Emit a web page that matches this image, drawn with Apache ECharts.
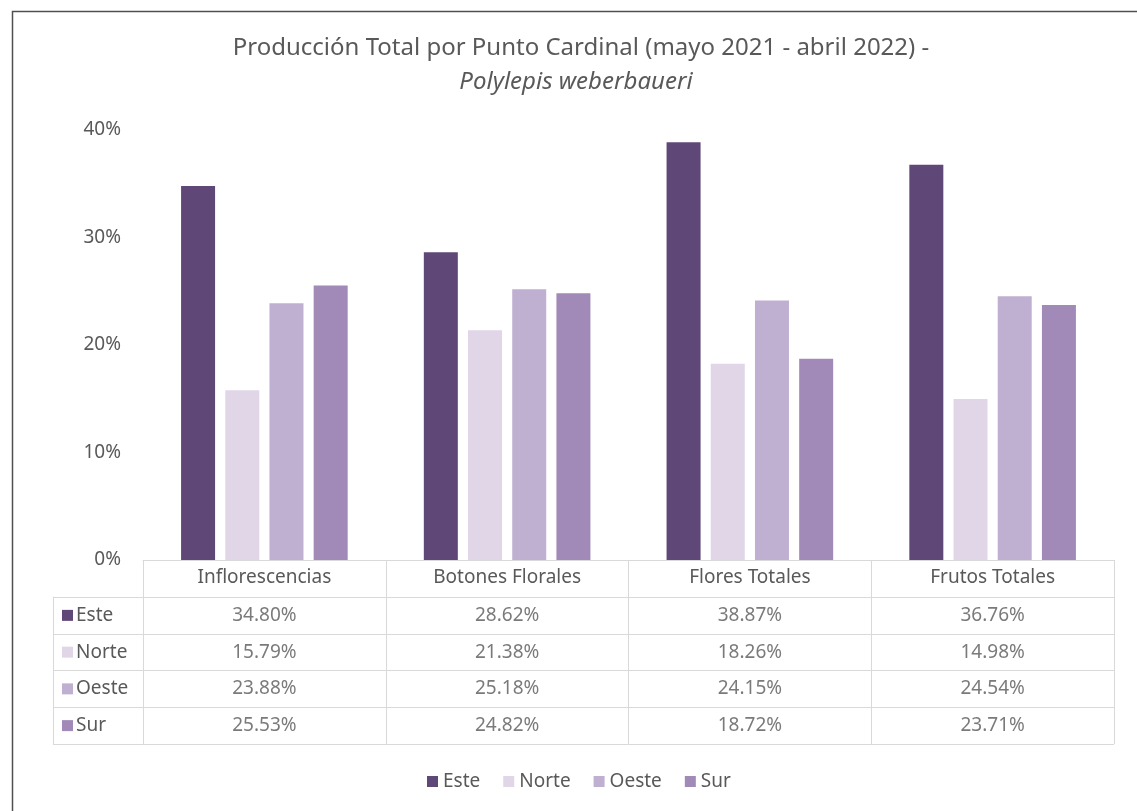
<!DOCTYPE html>
<html>
<head>
<meta charset="utf-8">
<script src="https://cdn.jsdelivr.net/npm/echarts@6/dist/echarts.min.js"></script>
<style>
  html, body { margin: 0; padding: 0; background: #fff; }
  #chart { width: 1137px; height: 811px; }
</style>
</head>
<body>
<div id="chart"></div>
<script>
// datos de la tabla
var categorias = ['Inflorescencias', 'Botones Florales', 'Flores Totales', 'Frutos Totales'];
var puntos = ['Este', 'Norte', 'Oeste', 'Sur'];
var este = [34.80, 28.62, 38.87, 36.76];
var norte = [15.79, 21.38, 18.26, 14.98];
var oeste = [23.88, 25.18, 24.15, 24.54];
var sur = [25.53, 24.82, 18.72, 23.71];
var yTicks = [0, 10, 20, 30, 40];

var valores = [este, norte, oeste, sur];
var colores = ['#5f4878', '#e0d6e8', '#bfb0d1', '#a18ab8'];
var fuente = "'Noto Sans', sans-serif";
var gris = '#595959';
var linea = '#d9d9d9';
var tam = 19;

var myChart = echarts.init(document.getElementById('chart'));

var series = [];
for (let i = 0; i < puntos.length; i++) {
    series.push({
        name: puntos[i],
        type: 'bar',
        xAxisIndex: 0,
        yAxisIndex: 0,
        barWidth: 34,
        barGap: '30%',
        itemStyle: { color: colores[i] },
        data: valores[i]
    });
}

// celdas de la tabla
var celdas = [];
for (let i = 0; i < puntos.length; i++) {
    for (let j = 0; j < categorias.length; j++) {
        celdas.push({ value: [categorias[j], puntos[i]], v: valores[i][j] });
    }
}
series.push({
    name: 'tabla',
    type: 'scatter',
    xAxisIndex: 1,
    yAxisIndex: 1,
    symbolSize: 0,
    silent: true,
    label: {
        show: true,
        position: 'inside',
        color: gris,
        fontFamily: fuente,
        fontSize: tam,
        formatter: function (p) {
            return p.data.v.toFixed(2) + '%';
        }
    },
    data: celdas
});

var rich = { t: { color: gris, fontFamily: fuente, fontSize: tam, padding: [0, 0, 0, 3] } };
for (let i = 0; i < colores.length; i++) {
    rich['s' + i] = { width: 11, height: 11, backgroundColor: colores[i] };
}

option = {
    backgroundColor: '#fff',
    animation: false,
    graphic: [
        {
            type: 'rect',
            shape: { x: 12.5, y: 11.5, width: 1200, height: 900 },
            style: { fill: 'none', stroke: '#505050', lineWidth: 1.5 }
        },
        {
            type: 'text',
            x: 581, y: 36,
            style: {
                text: 'Producción Total por Punto Cardinal (mayo 2021 - abril 2022) -',
                textAlign: 'center', fill: gris, fontFamily: fuente, fontSize: 24
            }
        },
        {
            type: 'text',
            x: 576, y: 70,
            style: {
                text: 'Polylepis weberbaueri',
                textAlign: 'center', fill: gris, fontFamily: fuente, fontSize: 24, fontStyle: 'italic'
            }
        }
    ],
    legend: {
        data: puntos,
        left: 422,
        top: 767,
        itemWidth: 11,
        itemHeight: 11,
        itemGap: 23,
        icon: 'rect',
        textStyle: { color: gris, fontFamily: fuente, fontSize: tam }
    },
    grid: [
        { left: 143, right: 23, top: 130, bottom: 251 },
        { left: 143, right: 23, top: 597, height: 147 },
        { left: 53, width: 90, top: 597, height: 147 }
    ],
    xAxis: [
        {
            type: 'category',
            gridIndex: 0,
            data: categorias,
            axisLine: { lineStyle: { color: linea, width: 1 } },
            axisTick: { show: true, length: 37, interval: 0, lineStyle: { color: linea } },
            axisLabel: { color: gris, fontFamily: fuente, fontSize: tam, margin: 8, interval: 0 }
        },
        {
            type: 'category',
            gridIndex: 1,
            data: categorias,
            axisLine: { show: false },
            axisTick: { show: false },
            axisLabel: { show: false },
            splitLine: { show: true, interval: 0, lineStyle: { color: linea } }
        },
        {
            type: 'value',
            gridIndex: 2,
            min: 0, max: 1,
            show: false
        }
    ],
    yAxis: [
        {
            type: 'value',
            gridIndex: 0,
            min: yTicks[0],
            max: yTicks[yTicks.length - 1],
            interval: yTicks[1] - yTicks[0],
            axisLine: { show: false },
            axisTick: { show: false },
            splitLine: { show: false },
            axisLabel: { color: gris, fontFamily: fuente, fontSize: tam, margin: 22, formatter: '{value}%' }
        },
        {
            type: 'category',
            gridIndex: 1,
            data: puntos,
            inverse: true,
            axisLine: { show: true, lineStyle: { color: linea } },
            axisTick: { show: false },
            axisLabel: { show: false },
            splitLine: { show: true, interval: 0, lineStyle: { color: linea } }
        },
        {
            type: 'category',
            gridIndex: 2,
            data: puntos,
            inverse: true,
            axisLine: { show: true, lineStyle: { color: linea } },
            axisTick: { show: false },
            splitLine: { show: true, interval: 0, lineStyle: { color: linea } },
            axisLabel: {
                inside: true,
                margin: 9,
                interval: 0,
                formatter: function (name, idx) {
                    return '{s' + idx + '|}{t|' + name + '}';
                },
                rich: rich
            }
        }
    ],
    series: series
};
myChart.setOption(option);
</script>
</body>
</html>
